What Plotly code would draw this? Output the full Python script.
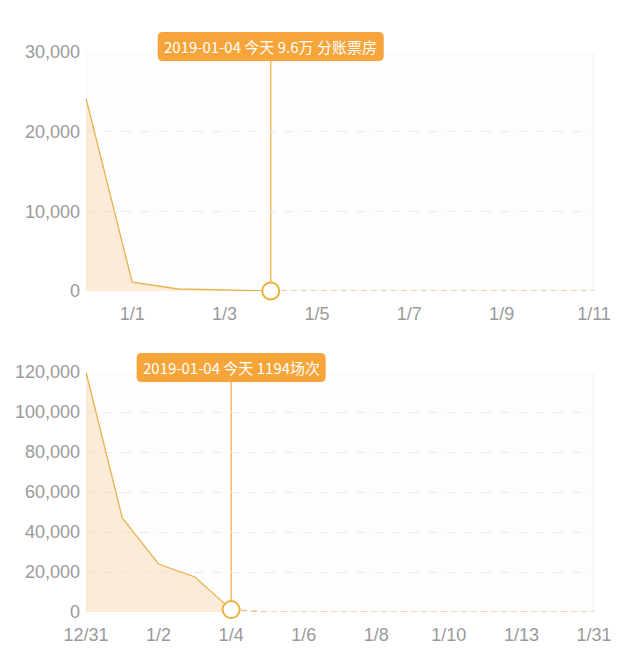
import plotly.graph_objects as go

# ---------------- data ----------------
top_categories = ["12/31", "1/1", "1/2", "1/3", "1/4", "1/5", "1/6", "1/7", "1/8", "1/9", "1/10", "1/11"]
top_actual_values = [24200, 1100, 250, 120, 9.6]          # 12/31 .. 1/4 (solid)
top_future_values = [9.6, 0, 0, 0, 0, 0, 0, 0]            # 1/4 .. 1/11 (dashed)
top_tickvals = ["1/1", "1/3", "1/5", "1/7", "1/9", "1/11"]
top_yticks = [0, 10000, 20000, 30000]
top_label = "2019-01-04 今天 9.6万 分账票房"

bot_categories = ["12/31", "1/1", "1/2", "1/3", "1/4", "1/5", "1/6", "1/7", "1/8", "1/9",
                  "1/10", "1/12", "1/13", "1/20", "1/31"]
bot_actual_values = [120000, 47000, 24000, 17500, 1194]   # 12/31 .. 1/4 (solid)
bot_future_values = [1194, 0, 0, 0, 0, 0, 0, 0, 0, 0, 0]  # 1/4 .. 1/31 (dashed)
bot_tickvals = ["12/31", "1/2", "1/4", "1/6", "1/8", "1/10", "1/13", "1/31"]
bot_yticks = [0, 20000, 40000, 60000, 80000, 100000, 120000]
bot_label = "2019-01-04 今天 1194场次"

today = "1/4"

# ---------------- style ----------------
W, H = 640, 649
LINE = "#E8B24E"
FILL = "rgba(249,196,128,0.30)"
MARK = "#EBB13E"
BOX = "#F6A53B"
GRID = "#ECECEC"
TICK = "#9A9A9A"
FONT = "Liberation Sans, Noto Sans CJK SC, sans-serif"
CJK = "Noto Sans CJK SC, Liberation Sans, sans-serif"

def py(px):
    return (H - px) / H

x_dom = [86 / W, 594 / W]
top_dom = [py(291), py(52)]
bot_dom = [py(612), py(372)]

fig = go.Figure()

def add_panel(cats, actual, future, xa, ya):
    n = len(actual)
    fig.add_trace(go.Scatter(
        x=cats[:n], y=actual, mode="lines", xaxis=xa, yaxis=ya,
        line=dict(color=LINE, width=1.3), fill="tozeroy", fillcolor=FILL,
        hoverinfo="skip", showlegend=False))
    fig.add_trace(go.Scatter(
        x=cats[n - 1:], y=future, mode="lines", xaxis=xa, yaxis=ya,
        line=dict(color="#EAC488", width=1.5, dash="6px,4px"),
        cliponaxis=False, hoverinfo="skip", showlegend=False))
    fig.add_trace(go.Scatter(
        x=[cats[n - 1]], y=[actual[-1]], mode="markers", xaxis=xa, yaxis=ya,
        marker=dict(size=17, color="white", line=dict(color=MARK, width=2)),
        cliponaxis=False, hoverinfo="skip", showlegend=False))

add_panel(top_categories, top_actual_values, top_future_values, "x", "y")
add_panel(bot_categories, bot_actual_values, bot_future_values, "x2", "y2")

axis_common = dict(
    showgrid=False, zeroline=False, ticks="", showline=False, automargin=False,
    tickfont=dict(family=FONT, size=18, color=TICK),
)

fig.update_layout(
    width=W, height=H,
    margin=dict(l=0, r=0, t=0, b=0),
    paper_bgcolor="white", plot_bgcolor="#FDFDFD",
    xaxis=dict(axis_common, type="category", categoryorder="array", categoryarray=top_categories,
               domain=x_dom, anchor="y", range=[0, len(top_categories) - 1],
               tickvals=top_tickvals, ticktext=top_tickvals, ticklabelstandoff=10),
    yaxis=dict(axis_common, domain=top_dom, anchor="x", range=[0, 30000],
               tickvals=top_yticks, tickformat=",d", showgrid=True, gridcolor=GRID,
               griddash="dash", gridwidth=1, ticklabelstandoff=5),
    xaxis2=dict(axis_common, type="category", categoryorder="array", categoryarray=bot_categories,
                domain=x_dom, anchor="y2", range=[0, len(bot_categories) - 1],
                tickvals=bot_tickvals, ticktext=bot_tickvals, ticklabelstandoff=10),
    yaxis2=dict(axis_common, domain=bot_dom, anchor="x2", range=[0, 120000],
                tickvals=bot_yticks, tickformat=",d", showgrid=True, gridcolor=GRID,
                griddash="dash", gridwidth=1, ticklabelstandoff=5),
)

shapes = []
annotations = []

def rounded_path(w, h, r):
    x0, x1, y0, y1 = -w / 2, w / 2, -h / 2, h / 2
    return (f"M {x0 + r},{y0} L {x1 - r},{y0} Q {x1},{y0} {x1},{y0 + r} "
            f"L {x1},{y1 - r} Q {x1},{y1} {x1 - r},{y1} L {x0 + r},{y1} "
            f"Q {x0},{y1} {x0},{y1 - r} L {x0},{y0 + r} Q {x0},{y0} {x0 + r},{y0} Z")

def add_tip(xref, cats, dom, box_top, box_bot, box_w, text):
    xi = cats.index(today)
    # side borders
    for xv, col in ((0, "#F1F1F1"), (len(cats) - 1, "#E6E6E6")):
        shapes.append(dict(type="line", xref=xref, yref="paper", x0=xv, x1=xv,
                           y0=dom[0], y1=dom[1], line=dict(color=col, width=1), layer="below"))
    # vertical guide
    shapes.append(dict(type="line", xref=xref, yref="paper", x0=xi, x1=xi,
                       y0=dom[0], y1=py(box_bot), line=dict(color="#EEBB62", width=1.5),
                       layer="below"))
    # tooltip box
    yc = py((box_top + box_bot) / 2)
    shapes.append(dict(type="path", xref=xref, yref="paper", xsizemode="pixel",
                       ysizemode="pixel", xanchor=xi, yanchor=yc,
                       path=rounded_path(box_w, box_bot - box_top, 5),
                       fillcolor=BOX, line=dict(width=0), layer="above"))
    annotations.append(dict(x=xi, y=yc, xref=xref, yref="paper", text=text,
                            showarrow=False, xanchor="center", yanchor="middle",
                            font=dict(family=CJK, size=15, color="white")))

add_tip("x", top_categories, top_dom, 32, 61, 226, top_label)
add_tip("x2", bot_categories, bot_dom, 353, 382, 189, bot_label)

fig.update_layout(shapes=shapes, annotations=annotations)

fig.write_html("out.html")
